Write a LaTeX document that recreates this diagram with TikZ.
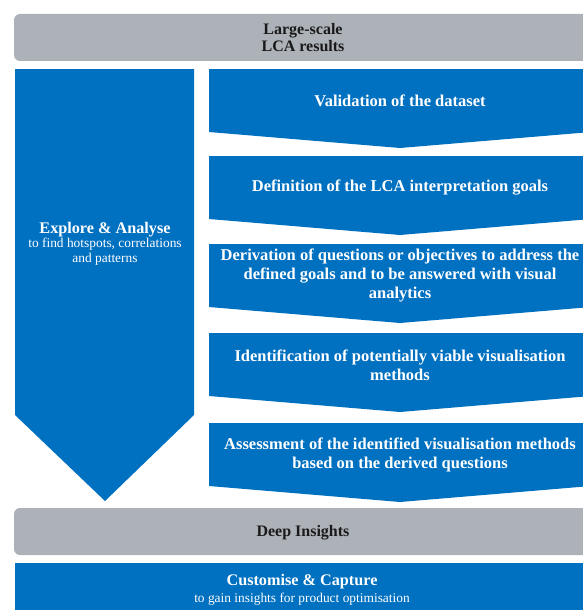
\documentclass[tikz,border=0pt]{standalone}
\usepackage{fontspec}
\setmainfont{Liberation Serif}
\definecolor{flowblue}{HTML}{0070C0}
\definecolor{bandgrey}{HTML}{ADB1B8}
\definecolor{bandtext}{HTML}{1A1A1A}
\tikzset{
  blueshape/.style={fill=flowblue, draw=none},
  greyband/.style={fill=bandgrey, draw=none, rounded corners=6pt},
  steptext/.style={text=white, font=\bfseries\fontsize{16.5}{18.8}\selectfont, align=center, inner sep=0pt},
  bandlabel/.style={text=bandtext, font=\bfseries\fontsize{16}{17}\selectfont, align=center, inner sep=0pt},
  phasetitle/.style={text=white, font=\bfseries\fontsize{16.2}{17}\selectfont, align=center, inner sep=0pt},
  phasesub/.style={text=white, font=\fontsize{13.4}{15}\selectfont, align=center, inner sep=0pt}
}
\begin{document}
\begin{tikzpicture}[x=1pt,y=-1pt]
\clip (0,0) rectangle (583,610);
\fill[white] (0,0) rectangle (583,610);

% top band
\fill[greyband] (14,14) rectangle (620,61);
\node[bandlabel] (input) at (303,38) {Large-scale\\LCA results};

% left phase arrow
\fill[blueshape] (15,69) -- (194,69) -- (194,415) -- (105,501) -- (15,415) -- cycle;
\node[phasetitle] (explore) at (105,229.5) {Explore \& Analyse};
\node[phasesub] (exploresub) at (105,252) {to find hotspots, correlations\\and patterns};

% chevron steps: top edge, body height 63, notch depth 16
\foreach \t in {69,156,244,333,423}{
  \fill[blueshape] (209,\t) -- (591,\t) -- (591,\t+63) -- (400,\t+79) -- (209,\t+63) -- cycle;
}
\node[steptext] (s1) at (400,101) {Validation of the dataset};
\node[steptext] (s2) at (400,188) {Definition of the LCA interpretation goals};
\node[steptext] (s3) at (400,275.5) {Derivation of questions or objectives to address the\\defined goals and to be answered with visual\\analytics};
\node[steptext] (s4) at (400,365) {Identification of potentially viable visualisation\\methods};
\node[steptext] (s5) at (400,455) {Assessment of the identified visualisation methods\\based on the derived questions};

% result band
\fill[greyband] (14,508) rectangle (620,555);
\node[bandlabel] (insights) at (303,533) {Deep Insights};

% bottom phase
\fill[blueshape] (15,563) rectangle (620,640);
\node[phasetitle] (capture) at (302,581.5) {Customise \& Capture};
\node[phasesub] (capturesub) at (302,599) {to gain insights for product optimisation};
\end{tikzpicture}
\end{document}
